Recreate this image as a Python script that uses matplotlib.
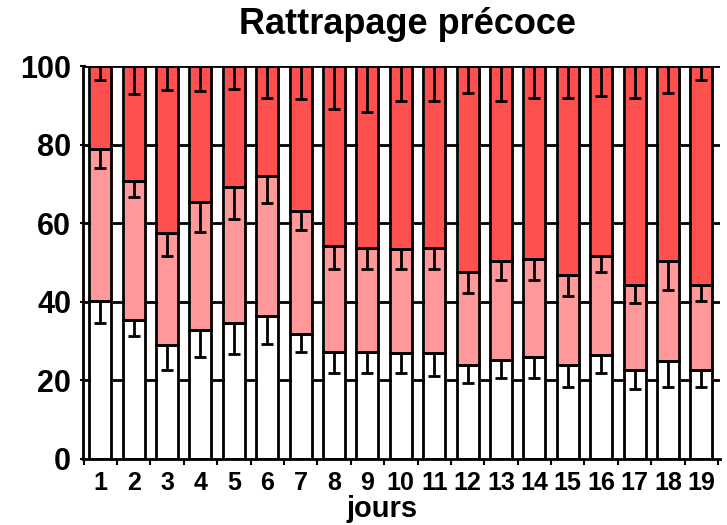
import numpy as np
import matplotlib
matplotlib.use("Agg")
import matplotlib.pyplot as plt

# days 1..19
jours = [str(i) for i in range(1, 20)]

# stacked percentages (bottom white, middle light red, top dark red)
blanc = [40.3, 35.4, 29.0, 32.8, 34.7, 36.5, 31.8, 27.1, 27.1, 26.9,
         26.9, 23.9, 25.2, 25.9, 23.9, 26.5, 22.5, 24.9, 22.5]
clair = [38.6, 35.4, 28.6, 32.5, 34.6, 35.5, 31.2, 27.2, 26.5, 26.5,
         26.9, 23.6, 25.2, 25.1, 22.9, 25.2, 21.7, 25.5, 21.7]
fonce = [21.1, 29.2, 42.4, 34.7, 30.7, 28.0, 37.0, 45.7, 46.4, 46.6,
         46.2, 52.5, 49.6, 49.0, 53.2, 48.3, 55.8, 49.6, 55.8]

# lower error bars (drawn down from the top of each segment)
err_blanc = [5.6, 4.1, 6.5, 6.9, 8.1, 7.3, 4.7, 5.3, 5.3, 5.1,
             5.8, 4.6, 4.7, 5.4, 5.5, 4.7, 4.8, 6.5, 4.1]
err_clair = [4.8, 4.0, 5.9, 7.5, 8.1, 6.8, 4.6, 6.0, 5.3, 5.1,
             5.5, 5.3, 4.9, 5.5, 5.3, 4.0, 4.6, 7.4, 3.9]
err_fonce = [3.6, 7.0, 6.1, 6.3, 5.7, 8.2, 8.3, 11.0, 11.6, 8.9,
             8.9, 6.8, 8.9, 8.1, 8.2, 7.5, 8.2, 6.8, 3.6]

plt.rcParams['font.family'] = ['Liberation Sans', 'DejaVu Sans']
plt.rcParams['font.weight'] = 'bold'

x = np.arange(len(jours))
w = 0.66
blanc = np.array(blanc)
clair = np.array(clair)
fonce = np.array(fonce)
haut_clair = blanc + clair
haut_fonce = haut_clair + fonce

fig = plt.figure(figsize=(7.27, 5.25), dpi=100)
ax = fig.add_axes([0.114, 0.126, 0.876, 0.748])

# black gridlines behind the bars
for g in [20, 40, 60, 80, 100]:
    ax.axhline(g, color='black', lw=2, zorder=0)

# fills slightly shifted like in the original, outlines on top
dx = 0.06
ax.bar(x + dx, blanc, w, color='white', zorder=1)
ax.bar(x + dx, clair, w, bottom=blanc, color='#ff9999', zorder=1)
ax.bar(x + dx, fonce, w, bottom=haut_clair, color='#ff5050', zorder=1)
for b, h in [(0, blanc), (blanc, clair), (haut_clair, fonce)]:
    ax.bar(x, h, w, bottom=b, facecolor='none', edgecolor='black', lw=2, zorder=2)

err_kw = dict(fmt='none', ecolor='black', elinewidth=2, capsize=4.5, capthick=2, zorder=3)
ax.errorbar(x, blanc, yerr=[err_blanc, np.zeros(len(x))], **err_kw)
ax.errorbar(x, haut_clair, yerr=[err_clair, np.zeros(len(x))], **err_kw)
ax.errorbar(x, haut_fonce, yerr=[err_fonce, np.zeros(len(x))], **err_kw)

ax.set_xlim(-0.52, 18.55)
ax.set_ylim(0, 100)
ax.set_yticks([0, 20, 40, 60, 80, 100])
ax.tick_params(axis='y', direction='inout', length=5, width=1.5, labelsize=22, pad=6)
ax.set_xticks(x)
ax.set_xticklabels(jours)
ax.set_xticks(np.arange(-0.5, 19, 1), minor=True)
ax.tick_params(axis='x', which='major', length=0, labelsize=18, pad=9)
ax.tick_params(axis='x', which='minor', direction='out', length=4, width=1.5)

for s in ['top', 'right']:
    ax.spines[s].set_visible(False)
ax.spines['left'].set_linewidth(2)
ax.spines['bottom'].set_linewidth(2)

fig.text(0.525, 0.015, 'jours', ha='center', va='baseline',
         fontsize=21, fontweight='bold')
fig.text(0.561, 0.953, 'Rattrapage précoce', ha='center', va='center',
         fontsize=26, fontweight='bold')

fig.savefig('out.png', dpi=100)
